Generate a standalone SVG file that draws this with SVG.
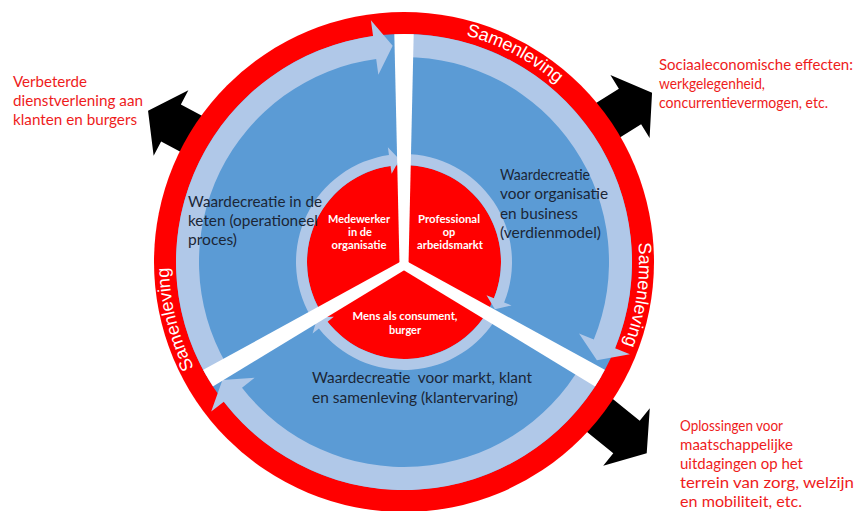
<svg xmlns="http://www.w3.org/2000/svg" xmlns:xlink="http://www.w3.org/1999/xlink" width="859" height="511" viewBox="0 0 859 511">
<style>
.blk{fill:#000}
.lb{fill:#b0c8e8}
.red{fill:#ff0000}
.blue{fill:#5b9bd5}
.spoke{fill:#fff}
.rt{font-family:Lato,"Liberation Sans",sans-serif;font-size:16px;fill:#ee1c1c}
.dt{font-family:Lato,"Liberation Sans",sans-serif;font-size:16px;fill:#1b2636;white-space:pre}
.wt{font-family:Lato,"Liberation Sans",sans-serif;font-size:11px;font-weight:bold;fill:#fff;text-anchor:middle}
.sam{font-family:"Liberation Sans",Arial,sans-serif;font-size:18px;fill:#fff;text-anchor:middle}
</style>
<defs>
<path id="bigArrow" d="M -60,-21 L 0,-21 L 0,-37 L 26,0 L 0,37 L 0,21 L -60,21 Z"/>
<path id="ringPath" d="M 404,27 A 235 235 0 1 1 404,497 A 235 235 0 1 1 404,27"/>
<clipPath id="diskClip"><circle cx="404" cy="262" r="228"/></clipPath>
</defs>
<rect width="859" height="511" fill="#fff"/>

<g id="outcome-arrows">
<use href="#bigArrow" class="blk" transform="translate(171,123) rotate(208)"/>
<use href="#bigArrow" class="blk" transform="translate(630,106.5) rotate(-32)"/>
<use href="#bigArrow" class="blk" transform="translate(626.5,437) rotate(39)"/>
</g>

<g id="samenleving-ring">
<circle cx="404" cy="262" r="250" class="red"/>
<circle cx="404" cy="262" r="228" class="blue"/>
</g>

<g id="outer-cycle">
<path class="lb" d="M 206.55,376 A 228 228 0 0 1 373.06,36.12 L 370.89,20.27 L 392.68,45.8 L 378.35,74.76 L 376.18,58.91 A 205 205 0 0 0 226.47,364.5 Z"/>
<path class="lb" d="M 404,34 A 228 228 0 0 1 615.11,348.14 L 629.92,354.18 L 596.9,360.29 L 579,333.4 L 593.81,339.45 A 205 205 0 0 0 404,57 Z"/>
<path class="lb" d="M 601.45,376 A 228 228 0 0 1 223.83,401.74 L 211.19,411.55 L 222.42,379.91 L 254.65,377.84 L 242.01,387.64 A 205 205 0 0 0 581.53,364.5 Z"/>
</g>

<g id="core">
<circle cx="404" cy="262" r="97" class="red"/>
<path class="lb" d="M 310.47,316 A 108 108 0 0 1 388.97,155.05 L 387.85,147.13 L 399.53,159.6 L 391.61,173.86 L 390.5,165.94 A 97 97 0 0 0 320,310.5 Z"/>
<path class="lb" d="M 404,154 A 108 108 0 0 1 504.14,302.46 L 511.56,305.45 L 494.92,309.32 L 486.52,295.34 L 493.94,298.34 A 97 97 0 0 0 404,165 Z"/>
<path class="lb" d="M 497.53,316 A 108 108 0 0 1 318.9,328.5 L 312.59,333.42 L 317.55,317.07 L 333.87,316.8 L 327.56,321.72 A 97 97 0 0 0 488,310.5 Z"/>
</g>

<g id="spokes" clip-path="url(#diskClip)">
<polygon class="spoke" points="-4.5,0 4.5,0 10,-245 -10,-245" transform="translate(404,265)"/>
<polygon class="spoke" points="-4.5,0 4.5,0 10,-245 -10,-245" transform="translate(404,265) rotate(120)"/>
<polygon class="spoke" points="-4.5,0 4.5,0 10,-245 -10,-245" transform="translate(404,265) rotate(240)"/>
<circle cx="404" cy="265" r="5" class="spoke"/>
</g>

<g id="ring-labels">
<text class="sam"><textPath href="#ringPath" startOffset="114.8">Samenleving</textPath></text>
<text class="sam"><textPath href="#ringPath" startOffset="401.9">Samenleving</textPath></text>
<text class="sam"><textPath href="#ringPath" startOffset="1049.6">Samenleving</textPath></text>
</g>

<g id="node-medewerker">
<text class="wt" x="359" y="223" textLength="62" lengthAdjust="spacingAndGlyphs">Medewerker</text>
<text class="wt" x="360" y="236">in de</text>
<text class="wt" x="359" y="249" textLength="55" lengthAdjust="spacingAndGlyphs">organisatie</text>
</g>
<g id="node-professional">
<text class="wt" x="449" y="223" textLength="62" lengthAdjust="spacingAndGlyphs">Professional</text>
<text class="wt" x="449" y="236">op</text>
<text class="wt" x="450" y="249" textLength="66" lengthAdjust="spacingAndGlyphs">arbeidsmarkt</text>
</g>
<g id="node-mens">
<text class="wt" x="405" y="320" textLength="105" lengthAdjust="spacingAndGlyphs">Mens als consument,</text>
<text class="wt" x="405" y="334">burger</text>
</g>

<g id="sector-keten">
<text class="dt" x="188" y="207" textLength="134" lengthAdjust="spacingAndGlyphs">Waardecreatie in de</text>
<text class="dt" x="188" y="226" textLength="130" lengthAdjust="spacingAndGlyphs">keten (operationeel</text>
<text class="dt" x="188" y="245" textLength="49" lengthAdjust="spacingAndGlyphs">proces)</text>
</g>
<g id="sector-organisatie">
<text class="dt" x="500" y="180" textLength="90" lengthAdjust="spacingAndGlyphs">Waardecreatie</text>
<text class="dt" x="500" y="199" textLength="108" lengthAdjust="spacingAndGlyphs">voor organisatie</text>
<text class="dt" x="500" y="219" textLength="78" lengthAdjust="spacingAndGlyphs">en business</text>
<text class="dt" x="500" y="238" textLength="101" lengthAdjust="spacingAndGlyphs">(verdienmodel)</text>
</g>
<g id="sector-markt">
<text class="dt" x="312" y="383" textLength="220" lengthAdjust="spacingAndGlyphs">Waardecreatie  voor markt, klant</text>
<text class="dt" x="312" y="403" textLength="206" lengthAdjust="spacingAndGlyphs">en samenleving (klantervaring)</text>
</g>

<g id="outcome-dienstverlening">
<text class="rt" x="13" y="87" textLength="74" lengthAdjust="spacingAndGlyphs">Verbeterde</text>
<text class="rt" x="13" y="106" textLength="130" lengthAdjust="spacingAndGlyphs">dienstverlening aan</text>
<text class="rt" x="13" y="125" textLength="124" lengthAdjust="spacingAndGlyphs">klanten en burgers</text>
</g>
<g id="outcome-sociaaleconomisch">
<text class="rt" x="659" y="70" style="font-size:15px" textLength="194" lengthAdjust="spacingAndGlyphs">Sociaaleconomische effecten:</text>
<text class="rt" x="659" y="89" textLength="106" lengthAdjust="spacingAndGlyphs">werkgelegenheid,</text>
<text class="rt" x="659" y="108" textLength="169" lengthAdjust="spacingAndGlyphs">concurrentievermogen, etc.</text>
</g>
<g id="outcome-oplossingen">
<text class="rt" x="680" y="431" textLength="103" lengthAdjust="spacingAndGlyphs">Oplossingen voor</text>
<text class="rt" x="680" y="450" textLength="113" lengthAdjust="spacingAndGlyphs">maatschappelijke</text>
<text class="rt" x="680" y="469" textLength="123" lengthAdjust="spacingAndGlyphs">uitdagingen op het</text>
<text class="rt" x="680" y="488" textLength="174" lengthAdjust="spacingAndGlyphs">terrein van zorg, welzijn</text>
<text class="rt" x="680" y="507" textLength="122" lengthAdjust="spacingAndGlyphs">en mobiliteit, etc.</text>
</g>
</svg>
